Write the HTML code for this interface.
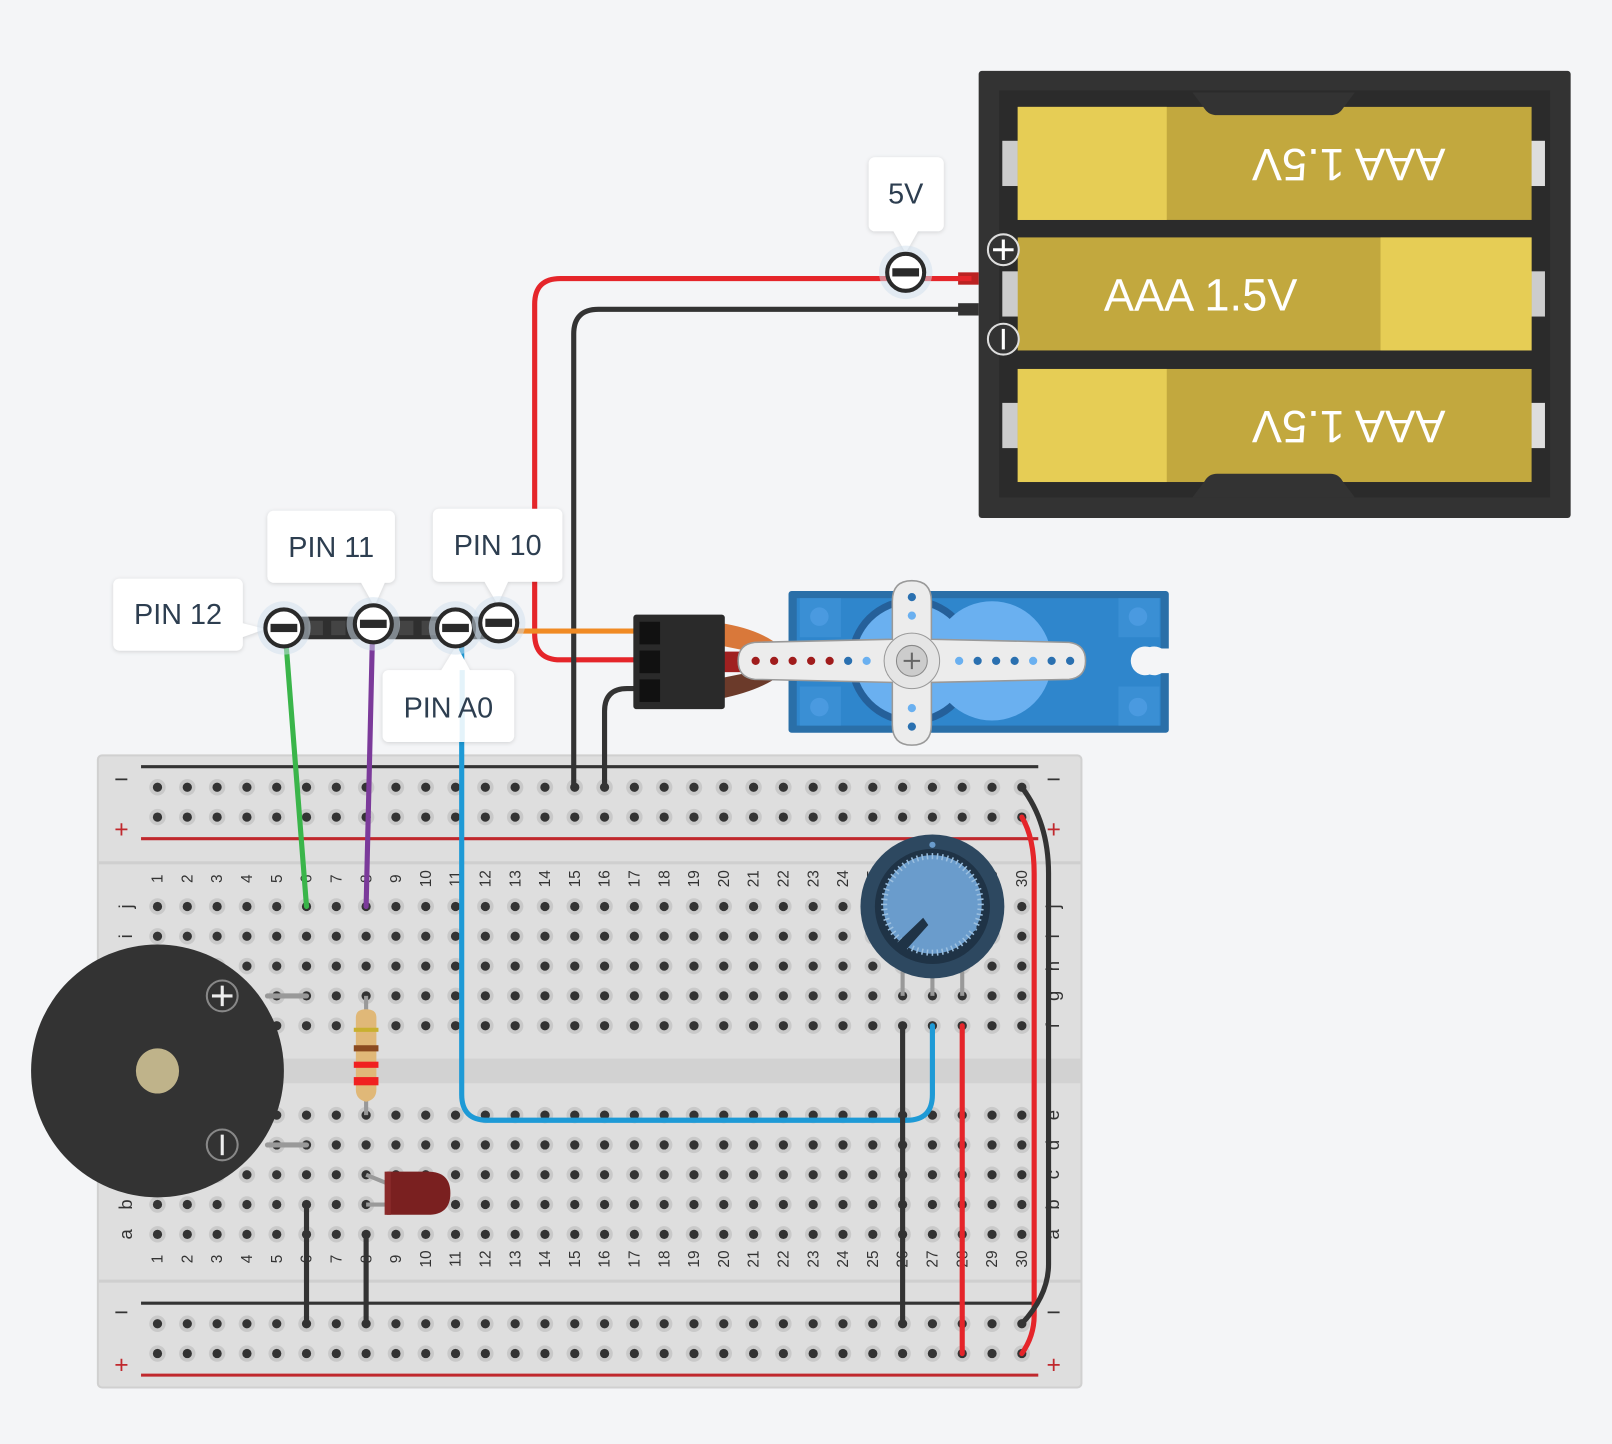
<!DOCTYPE html>
<html><head><meta charset="utf-8">
<style>
html,body{margin:0;padding:0;background:#f4f5f7;}
svg{display:block;font-family:"Liberation Sans",sans-serif;}
</style></head>
<body>
<svg id="s" width="1612" height="1444" viewBox="0 0 1568 1405" xmlns="http://www.w3.org/2000/svg">
<defs>
<filter id="sh" x="-20%" y="-20%" width="140%" height="140%"><feDropShadow dx="0" dy="1" stdDeviation="2" flood-color="#000" flood-opacity="0.15"/></filter>
</defs>
<rect width="1568" height="1405" fill="#f4f5f7"/>

<!-- breadboard -->
<rect x="95" y="735" width="957" height="615" rx="4" fill="#dedede" stroke="#d0d0d0" stroke-width="2"/>
<rect x="96" y="838" width="955" height="3" fill="#cfcfcf"/>
<rect x="96" y="1245" width="955" height="3" fill="#cfcfcf"/>
<rect x="96" y="1030" width="955" height="24" fill="#d2d2d2"/>
<line x1="137" y1="746" x2="1010" y2="746" stroke="#333" stroke-width="3"/>
<line x1="137" y1="816" x2="1010" y2="816" stroke="#c0282d" stroke-width="3"/>
<line x1="137" y1="1268" x2="1010" y2="1268" stroke="#333" stroke-width="3"/>
<line x1="137" y1="1338" x2="1010" y2="1338" stroke="#c0282d" stroke-width="3"/>
<g font-size="24" text-anchor="middle">
<text x="118" y="766" fill="#333">−</text><text x="118" y="815" fill="#c0282d">+</text>
<text x="1025" y="766" fill="#333">−</text><text x="1025" y="815" fill="#c0282d">+</text>
<text x="118" y="1285" fill="#333">−</text><text x="118" y="1336" fill="#c0282d">+</text>
<text x="1025" y="1285" fill="#333">−</text><text x="1025" y="1336" fill="#c0282d">+</text>
</g>
<g id="holes"></g>
<g id="nums" font-size="15" fill="#333"></g>

<!-- battery -->
<rect x="952" y="69" width="576" height="435" rx="3" fill="#333"/>
<rect x="972" y="88" width="536" height="396" fill="#2b2b2b"/>
<g>
<rect x="975" y="137" width="16" height="44" fill="#ccc"/><rect x="1489" y="137" width="14" height="44" fill="#ddd"/>
<rect x="975" y="264" width="16" height="44" fill="#ccc"/><rect x="1489" y="264" width="14" height="44" fill="#ccc"/>
<rect x="975" y="392" width="16" height="44" fill="#ccc"/><rect x="1489" y="392" width="14" height="44" fill="#ddd"/>
</g>
<rect x="990" y="104" width="500" height="110" fill="#c2a83e"/><rect x="990" y="104" width="145" height="110" fill="#e6cd55"/>
<rect x="990" y="231" width="500" height="110" fill="#c2a83e"/><rect x="1343" y="231" width="147" height="110" fill="#e6cd55"/>
<rect x="990" y="359" width="500" height="110" fill="#c2a83e"/><rect x="990" y="359" width="145" height="110" fill="#e6cd55"/>
<path d="M1160 90 H1318 L1306 106 Q1302 112 1294 112 H1184 Q1176 112 1172 106Z" fill="#333"/>
<path d="M1160 484 H1318 L1306 468 Q1302 461 1294 461 H1184 Q1176 461 1172 468Z" fill="#333"/>
<g font-size="44" fill="#fff" text-anchor="middle">
<text transform="translate(1312,160) rotate(180)" y="15">AAA 1.5V</text>
<text x="1168" y="302">AAA 1.5V</text>
<text transform="translate(1312,415) rotate(180)" y="15">AAA 1.5V</text>
</g>
<circle cx="976" cy="243" r="15" fill="#333" stroke="#ddd" stroke-width="2"/>
<path d="M966 243h20M976 233v20" stroke="#fff" stroke-width="3"/>
<circle cx="976" cy="330" r="15" fill="#333" stroke="#ddd" stroke-width="2"/>
<path d="M976 320v20" stroke="#fff" stroke-width="3"/>
<rect x="932" y="265" width="20" height="12" fill="#b22"/>
<rect x="932" y="295" width="20" height="12" fill="#333"/>

<!-- wires top -->
<path d="M945 271 H545 Q520 271 520 296 V617 Q520 642 545 642 H625" fill="none" stroke="#e5252a" stroke-width="5"/>
<path d="M945 301 H582 Q558 301 558 325 V766" fill="none" stroke="#333" stroke-width="5"/>
<path d="M485 614 H625" stroke="#f08a24" stroke-width="5"/>
<path d="M588 766 V692 Q588 670 610 670 H625" fill="none" stroke="#333" stroke-width="5"/>

<!-- servo -->
<path d="M700 606 Q740 612 760 630 L760 640 L700 628Z" fill="#d9783a"/>
<rect x="700" y="634" width="60" height="20" fill="#a02020"/>
<path d="M700 680 Q740 672 760 656 L760 648 L700 660Z" fill="#6b3a2a"/>
<rect x="616" y="598" width="89" height="92" rx="3" fill="#2a2a2a"/>
<rect x="622" y="605" width="20" height="22" fill="#111"/><rect x="622" y="633" width="20" height="22" fill="#111"/><rect x="622" y="661" width="20" height="22" fill="#111"/>
<rect x="767" y="575" width="370" height="138" rx="3" fill="#2a6fa8"/>
<rect x="775" y="582" width="354" height="124" fill="#2f86cc"/>
<rect x="778" y="582" width="40" height="38" fill="#3a8fd4"/><rect x="778" y="668" width="40" height="38" fill="#3a8fd4"/>
<rect x="1088" y="582" width="40" height="38" fill="#3a8fd4"/><rect x="1088" y="668" width="40" height="38" fill="#3a8fd4"/>
<circle cx="797" cy="600" r="9" fill="#4a9ae0"/><circle cx="797" cy="688" r="9" fill="#4a9ae0"/>
<circle cx="1107" cy="600" r="9" fill="#4a9ae0"/><circle cx="1107" cy="688" r="9" fill="#4a9ae0"/>
<path d="M1138 631 L1130 631 A14 14 0 1 0 1130 655 L1138 655Z" fill="#f4f5f7"/>
<circle cx="1114" cy="643" r="14" fill="#f4f5f7"/>
<circle cx="887" cy="643" r="62" fill="#25609a"/><circle cx="887" cy="643" r="55" fill="#6ab0f0"/>
<circle cx="965" cy="643" r="58" fill="#6ab0f0"/>
<path d="M887 565 Q906 565 906 585 V622 L1040 625 Q1056 627 1056 643 Q1056 659 1040 661 L906 664 V705 Q906 725 887 725 Q868 725 868 705 V664 L734 661 Q718 659 718 643 Q718 627 734 625 L868 622 V585 Q868 565 887 565Z" fill="#ececec" stroke="#999" stroke-width="1.5"/>
<circle cx="887" cy="643" r="27" fill="#e5e5e5" stroke="#999"/>
<circle cx="887" cy="643" r="15" fill="#ccc" stroke="#888"/>
<path d="M879 643h16M887 635v16" stroke="#666" stroke-width="2"/>
<g fill="#a01c1c"><circle cx="735" cy="643" r="4"/><circle cx="753" cy="643" r="4"/><circle cx="771" cy="643" r="4"/><circle cx="789" cy="643" r="4"/><circle cx="807" cy="643" r="4"/></g>
<g fill="#2a70b0"><circle cx="825" cy="643" r="4"/><circle cx="843" cy="643" r="4" fill="#6ab0f0"/><circle cx="933" cy="643" r="4" fill="#6ab0f0"/><circle cx="951" cy="643" r="4"/><circle cx="969" cy="643" r="4"/><circle cx="987" cy="643" r="4"/><circle cx="1005" cy="643" r="4" fill="#6ab0f0"/><circle cx="1023" cy="643" r="4"/><circle cx="1041" cy="643" r="4"/><circle cx="887" cy="581" r="4"/><circle cx="887" cy="599" r="4" fill="#6ab0f0"/><circle cx="887" cy="689" r="4" fill="#6ab0f0"/><circle cx="887" cy="707" r="4"/></g>

<!-- pin header -->
<rect x="270" y="600" width="225" height="22" rx="2" fill="#2f2f2f"/>
<g fill="#444"><rect x="300" y="604" width="14" height="14"/><rect x="322" y="604" width="14" height="14"/><rect x="388" y="604" width="14" height="14"/><rect x="410" y="604" width="14" height="14"/></g>

<!-- signal wires -->
<path d="M278 625 L298 882" stroke="#3ab54a" stroke-width="5" stroke-linecap="round"/>
<path d="M362 625 L356 882" stroke="#7b3a9a" stroke-width="5" stroke-linecap="round"/>
<path d="M449 625 V1065 Q449 1090 474 1090 H882 Q907 1090 907 1065 V998" fill="none" stroke="#1e9ad6" stroke-width="5" stroke-linecap="round"/>

<!-- labels -->
<g filter="url(#sh)" fill="#fff">
<rect x="110" y="563" width="126" height="70" rx="6"/><path d="M230 605 L258 612 L230 622Z"/>
<rect x="260" y="497" width="124" height="70" rx="6"/><path d="M350 565 L364 590 L375 565Z"/>
<rect x="421" y="495" width="126" height="71" rx="6"/><path d="M470 564 L484 588 L495 564Z"/>
<rect x="372" y="652" width="128" height="70" rx="6"/><path d="M428 654 L444 628 L458 654Z"/>
<rect x="845" y="153" width="73" height="72" rx="6"/><path d="M868 223 L881 246 L894 223Z"/>
</g>
<rect x="447" y="652" width="5" height="70" fill="#1e9ad6" opacity="0.12"/>
<g font-size="28" fill="#2d3e50" text-anchor="middle">
<text x="173" y="607">PIN 12</text>
<text x="322" y="542">PIN 11</text>
<text x="484" y="540">PIN 10</text>
<text x="436" y="698">PIN A0</text>
<text x="881" y="198">5V</text>
</g>
<g id="pins"></g>

<!-- breadboard wires -->
<g stroke-width="5" stroke-linecap="round" fill="none">
<path d="M298 1172 V1288" stroke="#333"/>
<path d="M356 1201 V1288" stroke="#333"/>
<path d="M878 998 V1288" stroke="#333"/>
<path d="M936 998 V1317" stroke="#e5252a"/>
<path d="M994 795 Q1006 815 1006 850 V1280 Q1006 1300 994 1317" stroke="#e5252a"/>
<path d="M994 766 Q1020 800 1020 850 V1230 Q1020 1260 994 1288" stroke="#333"/>
</g>

<!-- buzzer -->
<path d="M260 969 H298 M260 1114 H298" stroke="#999" stroke-width="5" stroke-linecap="round"/>
<circle cx="153" cy="1042" r="123" fill="#333"/>
<ellipse cx="153" cy="1042" rx="21" ry="22" fill="#bfb38a"/>
<circle cx="216" cy="969" r="15" fill="none" stroke="#888" stroke-width="2"/><path d="M206 969h20M216 959v20" stroke="#eee" stroke-width="3"/>
<circle cx="216" cy="1114" r="15" fill="none" stroke="#888" stroke-width="2"/><path d="M216 1104v20" stroke="#eee" stroke-width="3"/>

<!-- resistor -->
<path d="M356 969 V1085" stroke="#999" stroke-width="4"/>
<path d="M346 990 Q346 982 356 982 Q366 982 366 990 V1060 Q366 1070 356 1072 Q346 1070 346 1060Z" fill="#e0b878"/>
<rect x="344" y="1000" width="24" height="4" fill="#c8b030"/><rect x="344" y="1017" width="24" height="6" fill="#8a4a20"/>
<rect x="344" y="1033" width="24" height="6" fill="#f02020"/><rect x="344" y="1048" width="24" height="8" fill="#f02020"/>

<!-- LED -->
<path d="M356 1143 L378 1152 M356 1172 L378 1172" stroke="#999" stroke-width="4"/>
<path d="M376 1140 H416 Q438 1140 438 1161 Q438 1182 416 1182 H376Z" fill="#7a2020"/>
<rect x="374" y="1140" width="6" height="42" fill="#8a2a2a"/>

<!-- potentiometer -->
<path d="M878 945 V969 M907 945 V969 M936 945 V969" stroke="#999" stroke-width="4"/>
<circle cx="907" cy="882" r="70" fill="#2d4860"/>
<circle cx="907" cy="882" r="56" fill="#1f3346"/>
<circle cx="907" cy="880" r="48" fill="#6a9ccc"/>
<g id="ticks"></g>
<path d="M870 920 L898 893 L903 900 L878 928Z" fill="#1f3346"/>
<g fill="#6a9ccc"><circle cx="907" cy="822" r="3"/><circle cx="868" cy="862" r="3"/><circle cx="946" cy="862" r="3"/><circle cx="947" cy="903" r="3"/><circle cx="887" cy="842" r="3"/><circle cx="927" cy="842" r="3"/></g>
</svg>
<script>
var NS="http://www.w3.org/2000/svg";
function el(p,t,a,txt){var e=document.createElementNS(NS,t);for(var k in a)e.setAttribute(k,a[k]);if(txt!==undefined)e.textContent=txt;document.getElementById(p).appendChild(e);return e;}
var rows=[766,795,882,911,940,969,998,1085,1114,1143,1172,1201,1288,1317];
for(var i=0;i<30;i++){var x=153+29*i;for(var r=0;r<rows.length;r++){el("holes","circle",{cx:x,cy:rows[r],r:8,fill:"#c9c9c9"});el("holes","circle",{cx:x,cy:rows[r],r:4.5,fill:"#333"});}
el("nums","text",{transform:"translate("+(x+5)+",855) rotate(-90)","text-anchor":"middle"},String(i+1));
el("nums","text",{transform:"translate("+(x+5)+",1225) rotate(-90)","text-anchor":"middle"},String(i+1));}
var L=["j","i","h","g","f","e","d","c","b","a"],ly=[882,911,940,969,998,1085,1114,1143,1172,1201];
for(var j=0;j<10;j++){el("nums","text",{transform:"translate(128,"+ly[j]+") rotate(-90)","text-anchor":"middle","font-size":"18"},L[j]);el("nums","text",{transform:"translate(1030,"+ly[j]+") rotate(-90)","text-anchor":"middle","font-size":"18"},L[j]);}
var P=[[276,611],[363,607],[443,611],[485,606],[881,265]];
P.forEach(function(p){el("pins","circle",{cx:p[0],cy:p[1],r:26,fill:"#cfe0ee",opacity:"0.5"});el("pins","circle",{cx:p[0],cy:p[1],r:18,fill:"#fff",stroke:"#2a2a2a","stroke-width":"4"});el("pins","rect",{x:p[0]-13,y:p[1]-4,width:26,height:8,fill:"#2a2a2a"});});
for(var a=0;a<60;a++){var t=a*6*Math.PI/180;el("ticks","line",{x1:907+44*Math.cos(t),y1:880+44*Math.sin(t),x2:907+50*Math.cos(t),y2:880+50*Math.sin(t),stroke:"#9cc0e0","stroke-width":"1.5"});}
</script>
</body></html>
